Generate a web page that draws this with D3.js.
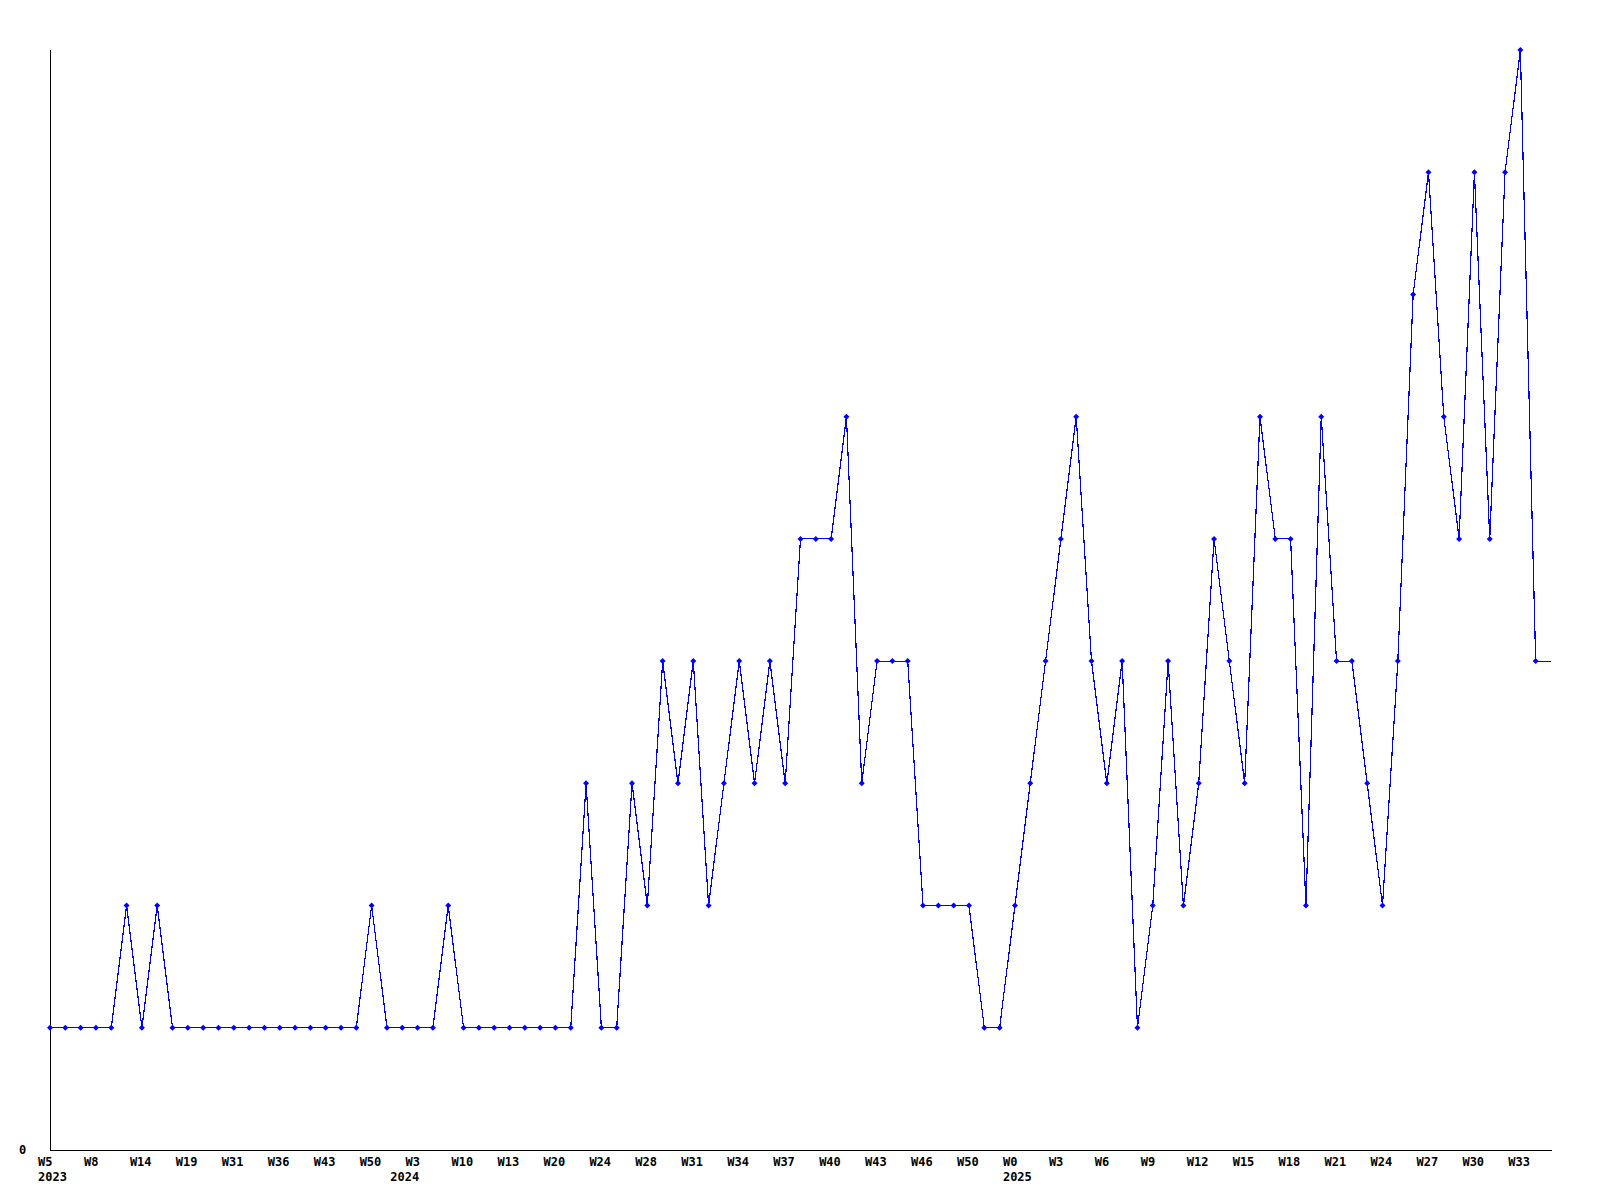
<!DOCTYPE html>
<html>
<head>
<meta charset="utf-8">
<script src="https://cdn.jsdelivr.net/npm/d3@7/dist/d3.min.js"></script>
<style>
  html, body { margin: 0; padding: 0; background: #ffffff; }
  svg { display: block; }
  text { font-family: "DejaVu Sans Mono", "Liberation Mono", monospace; font-weight: bold; font-size: 12px; fill: #000; }
</style>
</head>
<body>
<svg id="chart" width="1600" height="1200"></svg>
<script>
// Weekly values (one per point on the x axis)
const values = [
  1,1,1,1,1,2,1,2,1,1,
  1,1,1,1,1,1,1,1,1,1,
  1,2,1,1,1,1,2,1,1,1,
  1,1,1,1,1,3,1,1,3,2,
  4,3,4,2,3,4,3,4,3,5,
  5,5,6,3,4,4,4,2,2,2,
  2,1,1,2,3,4,5,6,4,3,
  4,1,2,4,2,3,5,4,3,6,
  5,5,2,6,4,4,3,2,4,7,
  8,6,5,8,5,8,9,4,4
];
// Week tick labels (every third point)
const tickIndex = [0,3,6,9,12,15,18,21,24,27,30,33,36,39,42,45,48,51,54,57,60,63,66,69,72,75,78,81,84,87,90,93,96];
const tickLabels = ["W5","W8","W14","W19","W31","W36","W43","W50","W3","W10","W13","W20","W24","W28","W31","W34","W37","W40","W43","W46","W50","W0","W3","W6","W9","W12","W15","W18","W21","W24","W27","W30","W33"];
// Year labels
const yearIndex = [0,23,63];
const yearLabels = ["2023","2024","2025"];
const yMax = 9;

(function () {
const svg = d3.select("#chart");
const mLeft = 50, mRight = 1551, mTop = 50, mBottom = 1150;

const x = d3.scaleLinear().domain([0, values.length - 1]).range([mLeft, mRight]);
const y = d3.scaleLinear().domain([0, yMax]).range([mBottom, mTop]);

// Axes
svg.append("line").attr("x1", mLeft + 0.5).attr("x2", mLeft + 0.5).attr("y1", mTop).attr("y2", mBottom + 1)
  .attr("stroke", "#000").attr("stroke-width", 1).attr("shape-rendering", "crispEdges");
svg.append("line").attr("x1", mLeft).attr("x2", mRight + 1).attr("y1", mBottom + 0.5).attr("y2", mBottom + 0.5)
  .attr("stroke", "#000").attr("stroke-width", 1).attr("shape-rendering", "crispEdges");

// Y label "0"
svg.append("text").attr("x", 19).attr("y", y(0) + 4).text("0");

// X tick labels
svg.append("g").selectAll("text").data(tickIndex).join("text")
  .attr("x", d => x(d) - 12)
  .attr("y", 1166)
  .text((d, i) => tickLabels[i]);

svg.append("g").selectAll("text").data(yearIndex).join("text")
  .attr("x", d => x(d) - 12)
  .attr("y", 1181)
  .text((d, i) => yearLabels[i]);

// Line
const line = d3.line().x((d, i) => x(i)).y(d => y(d));
svg.append("path").datum(values)
  .attr("d", line)
  .attr("fill", "none")
  .attr("stroke", "#0000ff")
  .attr("stroke-width", 1.2)
  .attr("shape-rendering", "crispEdges");

// Markers (all but the trailing point)
svg.append("g").selectAll("path").data(values.slice(0, values.length - 1)).join("path")
  .attr("d", (d, i) => {
    const cx = x(i), cy = y(d), r = 3;
    return `M${cx - r},${cy}L${cx},${cy - r}L${cx + r},${cy}L${cx},${cy + r}Z`;
  })
  .attr("fill", "#0000ff");
})();
</script>
</body>
</html>
